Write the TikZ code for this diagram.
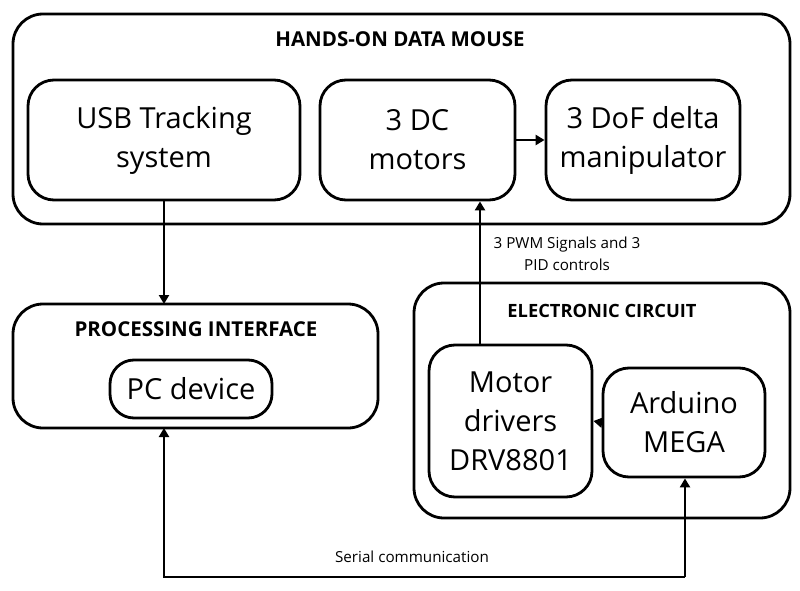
\documentclass[tikz,border=0pt]{standalone}
\usepackage{fontspec}
\setmainfont{Open Sans}
\usetikzlibrary{arrows.meta}
\begin{document}
\begin{tikzpicture}[x=1pt,y=-1pt,
  box/.style={draw, line width=2.8pt, rounded corners=30pt},
  inner/.style={draw, line width=2.8pt, rounded corners=26pt, align=center, font=\fontsize{29}{39}\selectfont},
  title/.style={font=\bfseries\fontsize{20.5}{24}\selectfont},
  lab/.style={font=\fontsize{15.2}{22}\selectfont, align=center},
  conn/.style={line width=2.8pt, -{Triangle[length=9pt,width=10pt]}}]
\useasboundingbox (0,0) rectangle (800,591);
% outer boxes
\draw[box] (13,14) rectangle (790,224);
\node[title] (t1) at (400,39) {HANDS-ON DATA MOUSE};
\draw[box] (13,304) rectangle (378,428);
\coordinate (proc) at (164,428);
\coordinate (proctop) at (164,304);
\node[title] (t2) at (196,329) {PROCESSING INTERFACE};
\draw[box] (414,283) rectangle (790,518);
\node[title, font=\bfseries\fontsize{18.3}{22}\selectfont] (t3) at (602,311) {ELECTRONIC CIRCUIT};
% inner nodes
\node[inner, minimum width=272pt, minimum height=120pt] (usb) at (164,140) {USB Tracking\\system};
\node[inner, minimum width=195pt, minimum height=120pt] (dc) at (417.5,140) {3 DC\\motors};
\node[inner, minimum width=194pt, minimum height=120pt] (dof) at (643,140) {3 DoF delta\\manipulator};
\node[inner, minimum width=162pt, minimum height=58pt, rounded corners=24pt] (pc) at (191,389) {PC device};
\node[inner, minimum width=163pt, minimum height=152pt] (md) at (510.5,421) {Motor\\drivers\\DRV8801};
\node[inner, minimum width=162pt, minimum height=109pt] (ard) at (684,422.5) {Arduino\\MEGA};
% connectors
\draw[conn] (dc.east) -- (dof.west);
\draw[conn] (usb.south) -- (proctop);
\draw[conn] (md.north -| 480,0) -- (dc.south -| 480,0);
\node[lab] (pwm) at (567,254) {3 PWM Signals and 3\\PID controls};
\draw[conn] (ard.west) -- (md.east);
\coordinate (c1) at (685,577);
\coordinate (c2) at (164,577);
\draw[conn] (c1) -- (ard.south -| c1);
\draw[conn] (c1) -- (c2) -- (proc);
\node[lab] (ser) at (412,557) {Serial communication};
\end{tikzpicture}
\end{document}
